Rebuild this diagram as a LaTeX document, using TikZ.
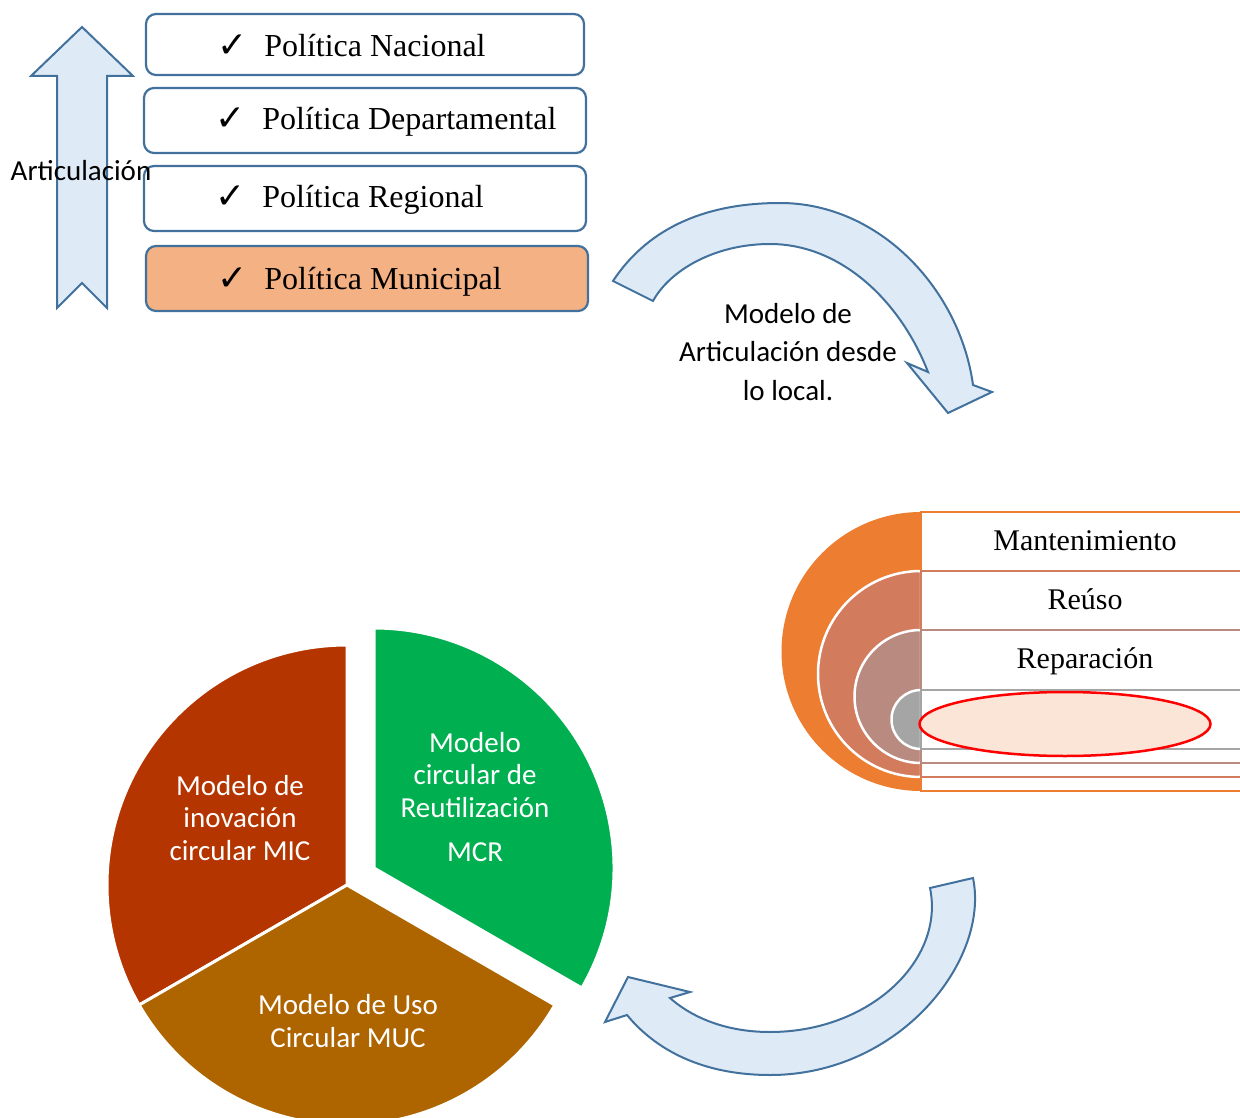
\documentclass[tikz,border=0pt]{standalone}
\usepackage{fontspec}
\setmainfont{Liberation Serif}
\newfontfamily\calibri{Carlito}
\newfontfamily\checkfont{DejaVu Sans}
\usepackage{tikz}
\usetikzlibrary{positioning}
\definecolor{lineblue}{RGB}{65,113,156}
\definecolor{paleblue}{RGB}{222,235,247}
\definecolor{peach}{RGB}{244,177,131}
\definecolor{micred}{RGB}{180,53,0}
\definecolor{mucbrown}{RGB}{174,101,0}
\definecolor{mcrgreen}{RGB}{0,176,80}
\definecolor{ringA}{RGB}{237,125,49}
\definecolor{ringB}{RGB}{210,123,93}
\definecolor{ringC}{RGB}{185,138,128}
\definecolor{ringD}{RGB}{165,165,165}
\definecolor{ovalfill}{RGB}{251,229,214}
\newcommand{\boxline}{2.2pt}
\newcommand{\pierad}{240}
\newcommand{\tick}{\raisebox{-1pt}{\checkfont\fontsize{36}{36}\selectfont ✓}\hspace{17pt}}

\begin{document}
\begin{tikzpicture}[x=1pt,y=-1pt]
    \useasboundingbox (0,0) rectangle (1240,1118);
    \clip (0,0) rectangle (1240,1118);
    %\draw[help lines,step=50] (0,0) grid (1240,1118);
    \tikzset{
        polbox/.style = {draw=lineblue, line width=\boxline, rounded corners=10pt, fill=white},
        poltext/.style = {anchor=base west, inner sep=0pt, font=\fontsize{32}{38}\selectfont},
        bigarrow/.style = {draw=lineblue, line width=2pt, fill=paleblue},
        sanstext/.style = {inner sep=0pt, align=center, font=\calibri\fontsize{29}{38.5}\selectfont},
        pietext/.style = {inner sep=0pt, align=center, text=white, font=\calibri\fontsize{29}{32.5}\selectfont},
        slice/.style = {draw=white, line width=3pt, line join=round},
        halfdisc/.style = {draw=white, line width=2.5pt},
        rowline/.style = {line width=2.2pt},
        rowtext/.style = {anchor=base, inner sep=0pt, font=\fontsize{30}{36}\selectfont}
    }

    % levels of policy
    \node[polbox, minimum width=438pt, minimum height=61pt] (nacional) at (365,44.5) {};
    \node[polbox, minimum width=442pt, minimum height=65pt] (depto) at (365,120.5) {};
    \node[polbox, minimum width=442pt, minimum height=65pt] (regional) at (365,198.5) {};
    \node[polbox, fill=peach, minimum width=442pt, minimum height=65pt] (municipal) at (367,278.5) {};
    \node[poltext] (nacT) at (217,57) {\tick Política Nacional};
    \node[poltext] (deptoT) at (215,130) {\tick Política Departamental};
    \node[poltext] (regT) at (215,208) {\tick Política Regional};
    \node[poltext] (munT) at (217,290) {\tick Política Municipal};

    \draw[bigarrow] (57,308) -- (57,76) -- (31,76) -- (82,27) -- (133,76)
        -- (107,76) -- (107,308) -- (82,283) -- cycle;
    \node[sanstext, anchor=base] (artic) at (81,181) {Articulación};

    % curved arrow down to the rings
    \draw[bigarrow] (613,281) .. controls (650,225) and (710,203) .. (780,203)
        .. controls (880,203) and (960,290) .. (973,385)
        -- (992,392) -- (948,413) -- (907,363) -- (928,372)
        .. controls (900,300) and (840,244) .. (770,244)
        .. controls (715,244) and (670,270) .. (653,301) -- cycle;
    \node[sanstext] (modart) at (788,352) {Modelo de\\Articulación desde\\lo local.};

    % rings
    \draw[halfdisc, draw=none, fill=ringA] (921,512) arc[start angle=270, end angle=90, radius=139.5] -- cycle;
    \draw[halfdisc, fill=ringB] (921,571) arc[start angle=270, end angle=90, radius=103] -- cycle;
    \draw[halfdisc, fill=ringC] (921,630) arc[start angle=270, end angle=90, radius=66.5] -- cycle;
    \draw[halfdisc, fill=ringD] (921,690) arc[start angle=270, end angle=90, radius=29.5] -- cycle;
    \draw[rowline, ringA] (921,512) rectangle (1260,791);
    \draw[rowline, ringB] (921,571) rectangle (1260,777);
    \draw[rowline, ringC] (921,630) rectangle (1260,763);
    \draw[rowline, ringD] (921,690) rectangle (1260,749);
    \draw[red, line width=2.5pt, fill=ovalfill] (1065,724) ellipse[x radius=145.5, y radius=32];
    \node[rowtext] (mant) at (1085,550) {Mantenimiento};
    \node[rowtext] (reuso) at (1085,609) {Reúso};
    \node[rowtext] (repar) at (1085,668) {Reparación};

    % curved arrow back to the models
    \draw[bigarrow] (973,878) .. controls (990,960) and (900,1075) .. (770,1075)
        .. controls (710,1075) and (660,1055) .. (627,1015)
        -- (605,1022) -- (628,977) -- (690,992) -- (670,998)
        .. controls (695,1020) and (730,1032) .. (770,1032)
        .. controls (870,1032) and (945,960) .. (930,888) -- cycle;

    % models
    \coordinate (pc) at (347,885);
    \coordinate (gc) at (374,868);
    \draw[slice, fill=micred] (pc) -- ++(270:\pierad) arc[start angle=270, end angle=150, radius=\pierad] -- cycle;
    \draw[slice, fill=mucbrown] (pc) -- ++(150:\pierad) arc[start angle=150, end angle=30, radius=\pierad] -- cycle;
    \draw[slice, fill=mcrgreen] (gc) -- ++(30:\pierad) arc[start angle=30, end angle=-90, radius=\pierad] -- cycle;
    \node[pietext] (mic) at (240,818) {Modelo de\\inovación\\circular MIC};
    \node[pietext] (mcr) at (475,797) {Modelo\\circular de\\Reutilización\\[12pt]MCR};
    \node[pietext] (muc) at (348,1021) {Modelo de Uso\\Circular MUC};
\end{tikzpicture}
\end{document}
